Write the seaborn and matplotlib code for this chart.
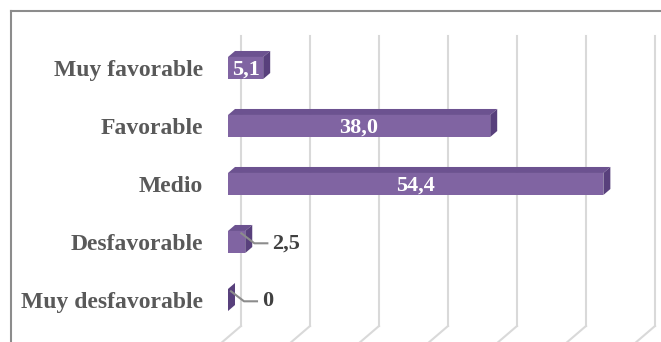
import matplotlib
matplotlib.use("Agg")
import matplotlib.pyplot as plt
import matplotlib.transforms as mtransforms
from matplotlib.patches import Polygon
from matplotlib.lines import Line2D
import seaborn as sns
import pandas as pd

# Data
categories = ["Muy favorable", "Favorable", "Medio", "Desfavorable", "Muy desfavorable"]
values = [5.1, 38.0, 54.4, 2.5, 0.0]
value_labels = ["5,1", "38,0", "54,4", "2,5", "0"]
x_ticks = [0, 10, 20, 30, 40, 50, 60]

FRONT = "#8064a2"
TOP = "#6c5290"
SIDE = "#58407c"
GRID = "#d9d9d9"
CAT_COLOR = "#595959"
LABEL_COLOR = "#404040"
SERIF = ["Liberation Serif", "DejaVu Serif"]
FS = 16
CAT_FS = 17

W, H = 661, 342
fig = plt.figure(figsize=(W / 100, H / 100), dpi=100)
fig.patch.set_facecolor("white")

# front plane of the 3-D plot area, in pixels
left_px, right_px = 228, 642
top_px, bottom_px = 47, 337
ax = fig.add_axes([left_px / W, 1 - bottom_px / H,
                   (right_px - left_px) / W, (bottom_px - top_px) / H])
ax.set_facecolor("none")

df = pd.DataFrame({"categoria": categories, "valor": values})
sns.barplot(data=df, x="valor", y="categoria", orient="h", color=FRONT,
            width=0.38, saturation=1, ax=ax, zorder=3)

ax.set_xlim(0, 60)
ax.set_ylim(4.638, -0.362)
for s in ax.spines.values():
    s.set_visible(False)
ax.set_xticks([])
ax.set_xlabel("")
ax.set_ylabel("")
ax.tick_params(axis="y", length=0, pad=18)
ax.set_yticks(range(len(categories)))
ax.set_yticklabels(categories, fontfamily=SERIF, fontweight="bold",
                   fontsize=CAT_FS, color=CAT_COLOR)

ident = mtransforms.IdentityTransform()

# back wall gridlines and floor lines (behind the bars)
wall_dx, wall_dy = 13, 11
y0_disp = ax.transData.transform((0, ax.get_ylim()[0]))[1]
y1_disp = ax.transData.transform((0, ax.get_ylim()[1]))[1]
for t in x_ticks:
    xd = ax.transData.transform((t, 0))[0]
    bx = xd + wall_dx
    ax.add_line(Line2D([bx, bx], [y0_disp + wall_dy, y1_disp + wall_dy],
                       transform=ident, color=GRID, lw=1.5, zorder=0.5,
                       clip_on=False))
    ax.add_line(Line2D([bx, xd - 8], [y0_disp + wall_dy, y0_disp - 7],
                       transform=ident, color=GRID, lw=1.5, zorder=0.5,
                       clip_on=False))

# 3-D faces of each bar
depth_dx, depth_dy = 7, 6
fig.canvas.draw()
for patch in list(ax.patches):
    bb = patch.get_window_extent()
    x0, x1, yb, yt = bb.x0, bb.x1, bb.y0, bb.y1
    top = Polygon([(x0, yt), (x1, yt), (x1 + depth_dx, yt + depth_dy),
                   (x0 + depth_dx, yt + depth_dy)], closed=True,
                  transform=ident, facecolor=TOP, edgecolor="none",
                  zorder=4, clip_on=False)
    side = Polygon([(x1, yb), (x1, yt), (x1 + depth_dx, yt + depth_dy),
                    (x1 + depth_dx, yb + depth_dy)], closed=True,
                   transform=ident, facecolor=SIDE, edgecolor="none",
                   zorder=4, clip_on=False)
    ax.add_artist(top)
    ax.add_artist(side)

# value labels
for i, (v, lab) in enumerate(zip(values, value_labels)):
    if v >= 5:
        ax.text(v / 2, i + 0.02, lab, ha="center", va="center", color="white",
                fontfamily=SERIF, fontweight="bold", fontsize=FS, zorder=6)
    else:
        sx, sy = ax.transData.transform((v * 0.6, i - 0.15))
        sx += 3
        ex, ey = sx + 13, sy - 10
        fx = ex + 13
        ax.add_line(Line2D([sx, ex, fx], [sy, ey, ey], transform=ident,
                           color="#8c8c8c", lw=1.5, zorder=5, clip_on=False))
        fig.text((fx + 5) / W, ey / H, lab, ha="left", va="center",
                 color=LABEL_COLOR, fontfamily=SERIF, fontweight="bold",
                 fontsize=FS, zorder=6)

# outer chart frame
fig.add_artist(Line2D([11, 11], [0, H - 11], transform=ident, color="#8c8c8c", lw=1.5))
fig.add_artist(Line2D([11, W], [H - 11, H - 11], transform=ident, color="#8c8c8c", lw=1.5))

fig.savefig("out.png", dpi=100)
